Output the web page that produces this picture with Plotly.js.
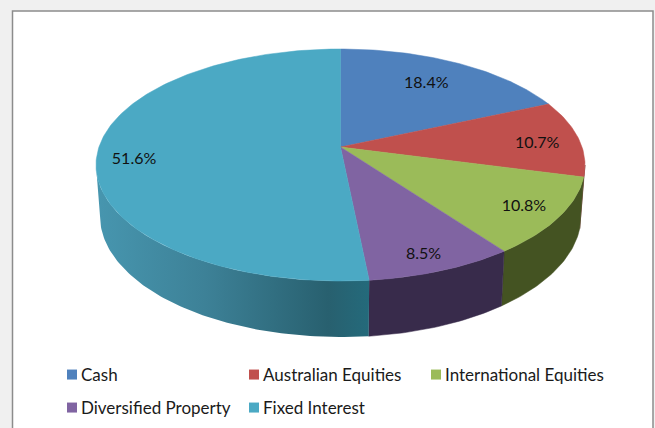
<!DOCTYPE html>
<html>
<head>
<meta charset="utf-8">
<script src="https://cdn.plot.ly/plotly-3.0.1.min.js"></script>
<style>html,body{margin:0;padding:0;background:#f0f0f0}</style>
</head>
<body>
<div id="chart" style="width:655px;height:428px"></div>
<script>
// data
const categories = ['Cash', 'Australian Equities', 'International Equities', 'Diversified Property', 'Fixed Interest'];
const shares = [18.4, 10.7, 10.8, 8.5, 51.6];

// styles
const topColors = ['#4F81BD', '#C0504D', '#9BBB59', '#8064A2', '#4BA9C4'];
const wallColors = ['#2A4568', '#6A2C2A', '#445322', '#382B4B', '#2A6A7C'];
const FONT = 'Lato, Carlito, sans-serif';

// projection of the tilted disc
const K = 0.155;
const topRim = {cx: 340.5, cy: 165, rx: 244.5, ry: 116};
const baseRim = {cx: 340.5, cy: 216, rx: 240.5, ry: 121};
function project(g, r, deg) {
  const t = deg * Math.PI / 180, u = r * Math.sin(t), v = r * Math.cos(t);
  const w = 1 + K * v;
  return [g.cx + g.rx * Math.sqrt(1 - K * K) * u / w, g.cy - (g.ry * v + g.ry * K) / w];
}
function arc(g, a, b) {
  const n = Math.max(2, Math.ceil(Math.abs(b - a))), pts = [];
  for (let i = 0; i <= n; i++) pts.push(project(g, 1, a + (b - a) * i / n));
  return pts;
}

// slice boundaries in degrees, from the values
const total = shares.reduce((s, v) => s + v, 0);
const starts = [], ends = [];
shares.reduce((acc, v, i) => { starts[i] = acc / total * 360; ends[i] = (acc + v) / total * 360; return acc + v; }, 0);

const traces = [];
const wallFrom = Math.acos(-K) * 180 / Math.PI, wallTo = 360 - wallFrom;

// side walls
shares.forEach((v, i) => {
  const a = Math.max(starts[i], wallFrom), b = Math.min(ends[i], wallTo);
  if (a >= b) return;
  const pts = arc(topRim, a, b).concat(arc(baseRim, b, a));
  pts.push(pts[0]);
  const t = {
    x: pts.map(p => p[0]), y: pts.map(p => p[1]), type: 'scatter', mode: 'lines', fill: 'toself',
    showlegend: false, hoverinfo: 'skip', line: {width: 0.5, color: wallColors[i]}, fillcolor: wallColors[i]
  };
  if (i === 4) {
    t.line = {width: 0, color: wallColors[i]};
    t.fillgradient = {type: 'horizontal', colorscale: [[0, '#4796AF'], [0.4, '#3D8197'], [0.85, '#28606F'], [1, '#246A7B']]};
  }
  traces.push(t);
});

// top faces
shares.forEach((v, i) => {
  const apex = project(topRim, 0, 0);
  const pts = [apex].concat(arc(topRim, starts[i], ends[i]), [apex]);
  traces.push({
    x: pts.map(p => p[0]), y: pts.map(p => p[1]), type: 'scatter', mode: 'lines', fill: 'toself',
    showlegend: false, hoverinfo: 'skip', line: {width: 0.5, color: topColors[i]}, fillcolor: topColors[i]
  });
});

// value labels
const labelRadius = [0.71, 0.825, 0.85, 0.84, 0.85];
const labelLift = [-1, 4, 2, 7, 8];
const labelPts = shares.map((v, i) => project(topRim, labelRadius[i], (starts[i] + ends[i]) / 2));
traces.push({
  x: labelPts.map(p => p[0]), y: labelPts.map((p, i) => p[1] + labelLift[i]),
  text: shares.map(v => v.toFixed(1) + '%'), type: 'scatter', mode: 'text', textposition: 'middle center',
  textfont: {family: FONT, size: 16, color: '#111'}, showlegend: false, hoverinfo: 'skip'
});

// legend entries
categories.forEach((c, i) => {
  traces.push({
    x: [null], y: [null], type: 'scatter', mode: 'markers', name: c,
    legend: i < 3 ? 'legend' : 'legend2',
    marker: {symbol: 'square', size: 10, color: topColors[i]}, hoverinfo: 'skip'
  });
});

const legendBase = {
  orientation: 'h', xanchor: 'left', yanchor: 'middle', bgcolor: 'rgba(0,0,0,0)', borderwidth: 0,
  x: 52 / 655, indentation: -11, itemclick: false, itemdoubleclick: false,
  entrywidthmode: 'pixels', entrywidth: 148,
  font: {family: FONT, size: 17, color: '#1a1a1a'}
};

const layout = {
  width: 655, height: 428, margin: {l: 0, r: 0, t: 0, b: 0},
  paper_bgcolor: '#f0f0f0', plot_bgcolor: 'rgba(0,0,0,0)',
  xaxis: {range: [0, 655], visible: false, fixedrange: true},
  yaxis: {range: [428, 0], visible: false, fixedrange: true},
  shapes: [{type: 'rect', layer: 'below', xref: 'x', yref: 'y', x0: 12.5, x1: 653, y0: 11, y1: 440,
            fillcolor: '#fff', line: {color: '#8c8c8c', width: 1.5}}],
  legend: Object.assign({}, legendBase, {y: 1 - 375 / 428}),
  legend2: Object.assign({}, legendBase, {y: 1 - 408 / 428})
};

Plotly.newPlot('chart', traces, layout, {displayModeBar: false, staticPlot: true}).then(() => {
  // the reference keeps its swatches close to the legend text
  document.querySelectorAll('#chart .legendsymbols').forEach(el => el.setAttribute('transform', 'translate(11,0)'));
  // the last column is wider than the shared entry width
  document.querySelectorAll('#chart .legend .scrollbox').forEach(el => el.removeAttribute('clip-path'));
  document.querySelectorAll('#chart .legend').forEach(el => el.removeAttribute('clip-path'));
  document.querySelectorAll('#chart .legend .traces').forEach(el => el.removeAttribute('clip-path'));
  document.querySelectorAll('#chart .legend .legendtext').forEach(el => el.removeAttribute('clip-path'));
});
</script>
</body>
</html>
